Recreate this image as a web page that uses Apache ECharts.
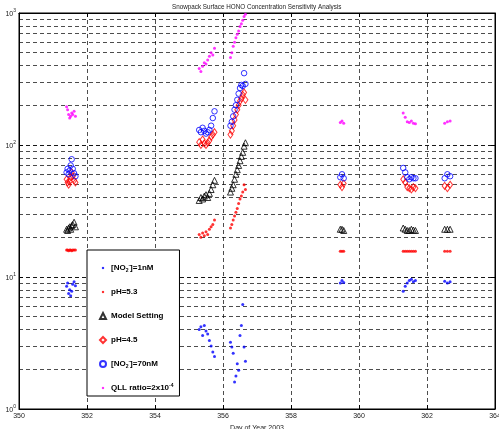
<!DOCTYPE html>
<html><head><meta charset="utf-8">
<script src="https://cdn.jsdelivr.net/npm/echarts@6/dist/echarts.min.js"></script>
<style>html,body{margin:0;padding:0;background:#fff}#c{width:499px;height:429px}</style>
</head><body><div id="c"></div>
<script>
const FONT = "'Liberation Sans Narrow','Liberation Sans',Arial,sans-serif";
const titleText = 'Snowpack Surface HONO Concentration Sensitivity Analysis';
const xName = 'Day of Year 2003';
const yName = 'HONO concentration/pptv';
const xMin = 350, xMax = 364, xStep = 2;
const yMin = 1, yMax = 1000;
const seriesNames = ['[NO2-]=1nM', 'pH=5.3', 'Model Setting', 'pH=4.5', '[NO2-]=70nM', 'QLL ratio=2x10-4'];

// model output times (day of year)
const days = [
  351.40,351.43,351.46,351.49,351.52,351.55,351.58,351.62,351.66,
  355.30,355.35,355.40,355.45,355.50,355.55,355.60,355.65,355.70,355.75,
  356.22,356.26,356.30,356.34,356.38,356.42,356.46,356.50,356.54,356.58,356.62,356.66,
  359.45,359.50,359.55,
  361.30,361.36,361.42,361.48,361.54,361.60,361.66,
  362.52,362.60,362.68
];
const no2_1nM = [
  8.5,9.0,7.5,8.0,7.2,7.8,8.8,9.2,8.6,
  4.0,4.2,3.6,4.3,3.9,3.7,3.3,3.0,2.7,2.5,
  3.2,2.95,2.65,1.6,1.78,2.2,1.97,3.6,4.3,6.2,2.95,2.3,
  9.0,9.4,9.1,
  7.8,8.5,9.0,9.4,9.6,9.2,9.4,
  9.3,9.0,9.2
];
const pH53 = [
  16,16,15.8,16,16,15.8,16,16,16,
  21,20,21.5,20.5,22,21,23,24,25,27,
  23.5,25,27,29,31,33,36,39,41,44,50,46,
  15.7,15.7,15.7,
  15.7,15.7,15.7,15.7,15.7,15.7,15.7,
  15.7,15.7,15.7
];
const modelSetting = [
  23,22.5,23.5,24,23,24.5,25,26,24,
  38,40,39,41,42,40,43,46,50,54,
  44,47,50,55,60,65,70,76,82,88,98,104,
  23,23,22.5,
  23.5,23,22.5,22.5,23,22.7,22.5,
  23,23,23
];
const pH45 = [
  55,52,50,53,57,62,58,54,52,
  105,100,110,103,100,104,108,115,120,125,
  120,128,140,155,170,185,200,215,225,240,250,220,
  50,48,51,
  55,52,48,47,46,48,47,
  49,47,50
];
const no2_70nM = [
  62,66,60,64,70,78,66,61,58,
  130,125,135,128,122,125,130,140,160,180,
  140,150,165,185,200,220,245,270,285,280,350,290,
  57,60,56,
  67,62,57,55,57,56,56,
  56,60,58
];
const qll = [
  195,185,170,160,165,175,170,180,165,
  380,360,395,420,410,440,470,500,480,540,
  460,500,560,600,650,690,730,790,830,880,940,980,
  148,152,146,
  175,162,150,148,152,146,145,
  146,150,152
];

const pairs = arr => days.map((d, i) => [d, arr[i]]);
const gridDash = { color: '#000', width: 0.7, type: [4, 3] };

// minor log gridlines (2..9 within each decade) plus decade lines
const gridValues = [];
for (let d = 1; d < yMax; d *= 10) {
  for (let m = 1; m <= 9; m++) { if (d * m > yMin) gridValues.push(d * m); }
}

const dotIcon = 'path://M0 0M10 10M3.2 3.2L6.8 3.2L6.8 6.8L3.2 6.8Z';
const openStyle = c => ({ color: 'rgba(0,0,0,0)', borderColor: c, borderWidth: 1 });

const chart = echarts.init(document.getElementById('c'), null, { renderer: 'canvas' });
chart.setOption({
  animation: false,
  backgroundColor: '#fff',
  textStyle: { fontFamily: FONT },
  title: {
    text: titleText, left: 167, top: -1,
    textStyle: { fontFamily: FONT, fontSize: 6.3, fontWeight: 'normal', color: '#222' }
  },
  grid: { left: 19, right: 4, top: 13, bottom: 20, show: true, borderColor: '#000', borderWidth: 1,
          containLabel: false, outerBoundsMode: 'none' },
  legend: {
    orient: 'vertical', left: 87, top: 250, z: 10,
    padding: [13, 6, 3, 12], itemGap: 14, itemWidth: 6, itemHeight: 6,
    backgroundColor: '#fff', borderColor: '#000', borderWidth: 1, borderRadius: 0,
    textStyle: {
      fontFamily: FONT, fontSize: 8, fontWeight: 'bold', color: '#000', lineHeight: 10,
      rich: {
        sb: { fontFamily: FONT, fontSize: 5, fontWeight: 'bold', verticalAlign: 'bottom', lineHeight: 10 },
        sp: { fontFamily: FONT, fontSize: 5, fontWeight: 'bold', verticalAlign: 'top', lineHeight: 10 }
      }
    },
    formatter: name => {
      if (name.startsWith('[NO2-]')) return '[NO{sb|2}{sp|-}]' + name.slice(6);
      if (name.startsWith('QLL')) return 'QLL ratio=2x10{sp|-4}';
      return name;
    },
    data: [
      { name: seriesNames[0], icon: dotIcon },
      { name: seriesNames[1], icon: dotIcon },
      { name: seriesNames[2] },
      { name: seriesNames[3] },
      { name: seriesNames[4] },
      { name: seriesNames[5], icon: dotIcon }
    ]
  },
  xAxis: [{
    type: 'value', min: xMin, max: xMax, interval: xStep,
    name: xName, nameLocation: 'middle', nameGap: 14,
    nameTextStyle: { fontFamily: FONT, fontSize: 7, color: '#222' },
    axisLine: { lineStyle: { color: '#000', width: 1 } },
    axisTick: { inside: true, length: 4, lineStyle: { color: '#000' } },
    axisLabel: { fontFamily: FONT, fontSize: 7, color: '#222', margin: 4 },
    splitLine: { show: true, lineStyle: gridDash }
  }, {
    type: 'value', position: 'top', min: xMin, max: xMax, interval: xStep,
    axisLine: { show: true, lineStyle: { color: '#000' } },
    axisTick: { inside: true, length: 4, lineStyle: { color: '#000' } },
    axisLabel: { show: false }, splitLine: { show: false }
  }],
  yAxis: [{
    type: 'log', logBase: 10, min: yMin, max: yMax,
    name: yName, nameLocation: 'middle', nameGap: 12, nameRotate: 90,
    nameTextStyle: { fontFamily: FONT, fontSize: 7, color: '#222' },
    axisLine: { show: true, lineStyle: { color: '#000', width: 1 } },
    axisTick: { inside: true, length: 4, lineStyle: { color: '#000' } },
    axisLabel: {
      margin: 3, color: '#222',
      formatter: v => '{b|10}{s|' + Math.round(Math.log10(v)) + '}',
      rich: {
        b: { fontFamily: FONT, fontSize: 7, color: '#222', verticalAlign: 'bottom', lineHeight: 10 },
        s: { fontFamily: FONT, fontSize: 5, color: '#222', verticalAlign: 'top', lineHeight: 10 }
      }
    },
    splitLine: { show: true, lineStyle: gridDash }
  }, {
    type: 'log', logBase: 10, min: yMin, max: yMax, position: 'right',
    axisLine: { show: true, lineStyle: { color: '#000' } },
    axisTick: { inside: true, length: 4, lineStyle: { color: '#000' } },
    axisLabel: { show: false }, splitLine: { show: false }
  }],
  series: [
    {
      name: '__grid', type: 'scatter', data: [], z: 0, silent: true,
      markLine: {
        silent: true, symbol: 'none', label: { show: false }, animation: false, z: 0,
        lineStyle: gridDash,
        data: gridValues.map(v => ({ yAxis: v }))
      }
    },
    { name: seriesNames[0], type: 'scatter', data: pairs(no2_1nM), symbol: 'circle', symbolSize: 3,
      itemStyle: { color: '#0000ff' } },
    { name: seriesNames[1], type: 'scatter', data: pairs(pH53), symbol: 'circle', symbolSize: 3,
      itemStyle: { color: '#ff0000' } },
    { name: seriesNames[2], type: 'scatter', data: pairs(modelSetting), symbol: 'triangle', symbolSize: 6,
      itemStyle: openStyle('#000000') },
    { name: seriesNames[3], type: 'scatter', data: pairs(pH45), symbol: 'diamond', symbolSize: [5, 7],
      itemStyle: openStyle('#ff0000') },
    { name: seriesNames[4], type: 'scatter', data: pairs(no2_70nM), symbol: 'circle', symbolSize: 5.5,
      itemStyle: openStyle('#0000ff') },
    { name: seriesNames[5], type: 'scatter', data: pairs(qll), symbol: 'circle', symbolSize: 3,
      itemStyle: { color: '#ff00ff' } }
  ]
});
</script>
</body></html>
